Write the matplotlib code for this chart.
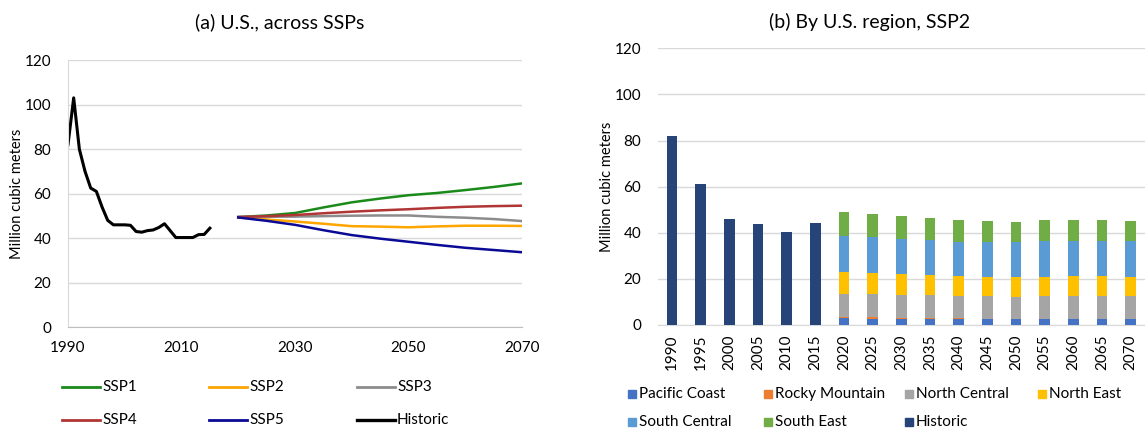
import matplotlib
matplotlib.use('Agg')
import matplotlib.pyplot as plt
from matplotlib.lines import Line2D
from matplotlib.patches import Rectangle

plt.rcParams['font.family'] = ['Lato', 'DejaVu Sans']
plt.rcParams['font.size'] = 10

# historic US harvest (million cubic meters)
hist_years = list(range(1990, 2016))
hist_vals = [82, 103, 80, 70, 62.5, 61, 54, 48, 46, 46, 46, 45.8, 43, 42.7, 43.4,
             43.7, 44.8, 46.5, 43.4, 40.3, 40.3, 40.3, 40.3, 41.6, 41.7, 44.5]

# projections by scenario
proj_years = [2020, 2025, 2030, 2035, 2040, 2045, 2050, 2055, 2060, 2065, 2070]
ssp1 = [49.5, 50.2, 51.3, 53.8, 56.1, 57.8, 59.3, 60.3, 61.6, 63.0, 64.6]
ssp2 = [49.3, 48.4, 47.5, 46.5, 45.4, 45.2, 44.9, 45.3, 45.6, 45.6, 45.5]
ssp3 = [49.5, 49.6, 49.7, 49.9, 50.1, 50.2, 50.2, 49.6, 49.2, 48.6, 47.7]
ssp4 = [49.5, 49.9, 50.4, 51.2, 51.9, 52.5, 53.0, 53.6, 54.1, 54.4, 54.6]
ssp5 = [49.3, 47.8, 46.0, 43.6, 41.4, 39.8, 38.4, 37.0, 35.7, 34.7, 33.7]

# SSP2 by region (stacked)
bar_years = ['1990', '1995', '2000', '2005', '2010', '2015', '2020', '2025', '2030', '2035',
             '2040', '2045', '2050', '2055', '2060', '2065', '2070']
historic_bars = [82, 61, 46, 44, 40.3, 44.3] + [0] * 11
pacific_coast = [0] * 6 + [2.9, 2.7, 2.6, 2.4, 2.4, 2.4, 2.4, 2.4, 2.4, 2.4, 2.4]
rocky_mountain = [0] * 6 + [0.6, 0.6, 0.6, 0.7, 0.8, 0.4, 0.4, 0.4, 0.4, 0.4, 0.4]
north_central = [0] * 6 + [9.9, 10.1, 9.8, 9.8, 9.4, 9.8, 9.5, 9.9, 9.9, 9.9, 9.9]
north_east = [0] * 6 + [9.7, 9.3, 9.3, 8.8, 8.8, 8.4, 8.5, 8.1, 8.5, 8.5, 8.1]
south_central = [0] * 6 + [15.6, 15.6, 15.1, 15.3, 14.7, 15.1, 15.2, 15.5, 15.2, 15.2, 15.6]
south_east = [0] * 6 + [10.5, 9.8, 10.0, 9.5, 9.3, 9.1, 8.8, 9.1, 9.3, 9.3, 8.8]

W, H = 1145, 428
fig = plt.figure(figsize=(W / 100, H / 100), dpi=100)


def fx(px):
    return px / W


def fy(py):
    return 1 - py / H


grid_c = '#d9d9d9'
axis_c = '#bfbfbf'
tick_fs = 11
leg_fs = 11

# ---- (a) line chart ----
ax1 = fig.add_axes([fx(68), fy(327.3), fx(522 - 68), (327.3 - 60) / H])
line_styles = [
    ('SSP1', proj_years, ssp1, '#1a8a1a', 1.8),
    ('SSP2', proj_years, ssp2, '#ffa500', 1.8),
    ('SSP3', proj_years, ssp3, '#8c8c8c', 1.8),
    ('SSP4', proj_years, ssp4, '#b03535', 1.8),
    ('SSP5', proj_years, ssp5, '#0a0a96', 1.8),
    ('Historic', hist_years, hist_vals, 'black', 2.2),
]
for name, xs, ys, c, lw in line_styles:
    ax1.plot(xs, ys, color=c, lw=lw, solid_joinstyle='round')
ax1.set_xlim(1990, 2070)
ax1.set_ylim(0, 120)
ax1.set_xticks([1990, 2010, 2030, 2050, 2070])
ax1.set_yticks(range(0, 121, 20))
ax1.yaxis.grid(True, color=grid_c, lw=1.0)
ax1.set_axisbelow(True)
for s in ['top', 'right']:
    ax1.spines[s].set_visible(False)
ax1.spines['left'].set_color(grid_c)
ax1.spines['bottom'].set_color(axis_c)
ax1.tick_params(length=0, labelsize=tick_fs)
ax1.tick_params(axis='x', pad=10)
ax1.tick_params(axis='y', pad=12)
ax1.set_ylabel('Million cubic meters', fontsize=10.5)
ax1.yaxis.set_label_coords(-0.097, 0.5)
fig.text(fx(280), fy(22), '(a) U.S., across SSPs', ha='center', va='center', fontsize=14)

# legend for (a), laid out in a 3 x 2 grid under the chart
leg_x = [62, 209, 357]
leg_y = [387, 420]
for i, (name, xs, ys, c, lw) in enumerate(line_styles):
    r, col = divmod(i, 3)
    x0 = leg_x[col]
    y0 = leg_y[r]
    fig.add_artist(Line2D([fx(x0), fx(x0 + 38)], [fy(y0), fy(y0)], color=c, lw=lw + 0.2,
                          transform=fig.transFigure))
    fig.text(fx(x0 + 40), fy(y0), name, ha='left', va='center', fontsize=leg_fs)

# ---- (b) stacked bars ----
ax2 = fig.add_axes([fx(657.7), fy(325), fx(1145 - 657.7), (325 - 48.3) / H])
x = range(len(bar_years))
bw = 0.37
series = [
    ('Pacific Coast', pacific_coast, '#4472c4'),
    ('Rocky Mountain', rocky_mountain, '#ed7d31'),
    ('North Central', north_central, '#a5a5a5'),
    ('North East', north_east, '#ffc000'),
    ('South Central', south_central, '#5b9bd5'),
    ('South East', south_east, '#70ad47'),
    ('Historic', historic_bars, '#264478'),
]
bottom = [0.0] * len(bar_years)
for name, vals, c in series:
    ax2.bar(x, vals, bw, bottom=bottom, color=c, zorder=3)
    bottom = [b + v for b, v in zip(bottom, vals)]
ax2.set_xlim(-0.5, len(bar_years) - 0.5)
ax2.set_ylim(0, 120)
ax2.set_xticks(list(x))
ax2.set_xticklabels(bar_years, rotation=90)
ax2.set_yticks(range(0, 121, 20))
ax2.yaxis.grid(True, color=grid_c, lw=1.0)
ax2.set_axisbelow(True)
for s in ['top', 'right', 'left']:
    ax2.spines[s].set_visible(False)
ax2.spines['bottom'].set_color(grid_c)
ax2.tick_params(length=0, labelsize=tick_fs)
ax2.tick_params(axis='x', pad=7)
ax2.tick_params(axis='y', pad=12)
ax2.set_ylabel('Million cubic meters', fontsize=10.5)
ax2.yaxis.set_label_coords(-0.090, 0.5)
fig.text(fx(870), fy(22), '(b) By U.S. region, SSP2', ha='center', va='center', fontsize=14)

# legend for (b): 4 columns, filled row by row
sq_x = [628, 764, 905, 1038]
sq_y = [394, 422]
for i, (name, vals, c) in enumerate(series):
    r, col = divmod(i, 4)
    x0 = sq_x[col]
    y0 = sq_y[r]
    fig.add_artist(Rectangle((fx(x0), fy(y0 + 4)), fx(8), 8 / H, color=c,
                             transform=fig.transFigure))
    fig.text(fx(x0 + 11), fy(y0), name, ha='left', va='center', fontsize=leg_fs)

fig.savefig('out.png', dpi=100)
